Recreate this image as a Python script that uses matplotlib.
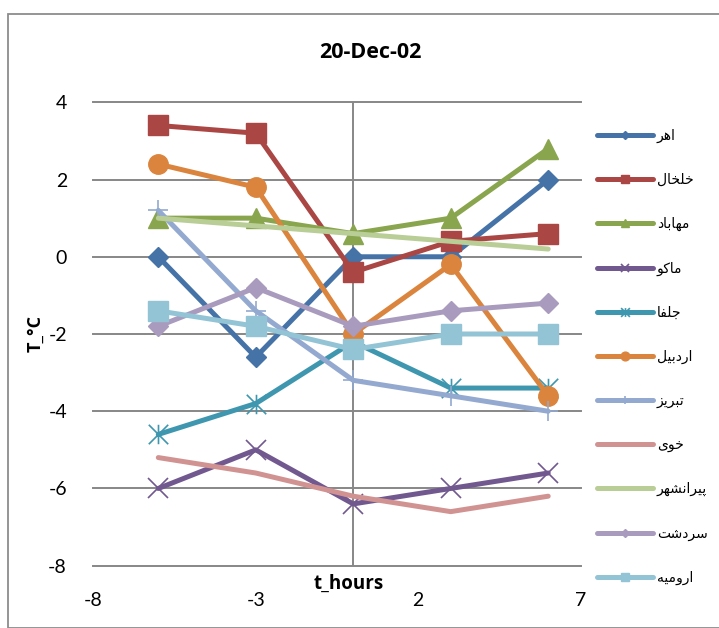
import matplotlib
matplotlib.use("Agg")
import matplotlib.pyplot as plt
from matplotlib.lines import Line2D
from matplotlib.path import Path
from matplotlib.patches import Rectangle

# ---- data -------------------------------------------------------------
hours = [-6, -3, 0, 3, 6]

stations = ["اهر", "خلخال", "مهاباد", "ماکو", "جلفا", "اردبیل",
            "تبریز", "خوی", "پیرانشهر", "سردشت", "ارومیه"]

ahar = [0.0, -2.6, 0.0, 0.0, 2.0]
khalkhal = [3.4, 3.2, -0.4, 0.4, 0.6]
mahabad = [1.0, 1.0, 0.6, 1.0, 2.8]
maku = [-6.0, -5.0, -6.4, -6.0, -5.6]
jolfa = [-4.6, -3.8, -2.2, -3.4, -3.4]
ardabil = [2.4, 1.8, -2.0, -0.2, -3.6]
tabriz = [1.2, -1.4, -3.2, -3.6, -4.0]
khoy = [-5.2, -5.6, -6.2, -6.6, -6.2]
piranshahr = [1.0, 0.8, 0.6, 0.4, 0.2]
sardasht = [-1.8, -0.8, -1.8, -1.4, -1.2]
urmia = [-1.4, -1.8, -2.4, -2.0, -2.0]

series = [ahar, khalkhal, mahabad, maku, jolfa, ardabil,
          tabriz, khoy, piranshahr, sardasht, urmia]

x_ticks = [-8, -3, 2, 7]
y_ticks = [-8, -6, -4, -2, 0, 2, 4]

title = "20-Dec-02"
x_label = "t_hours"
y_label = "T_°C"

# ---- styles -----------------------------------------------------------
colors = ["#4572A7", "#AA4643", "#89A54E", "#71588F", "#3E97AF", "#DB843D",
          "#93A9CF", "#D19392", "#B9CD96", "#A99BBD", "#92C4D5"]

# asterisk marker: an "x" with a vertical bar through it
star_path = Path(
    [(-0.5, -0.5), (0.5, 0.5), (-0.5, 0.5), (0.5, -0.5), (0, -0.5), (0, 0.5)],
    [Path.MOVETO, Path.LINETO, Path.MOVETO, Path.LINETO, Path.MOVETO, Path.LINETO],
)

# (marker, size, edge width, filled)
markers = [("D", 10, 1, True), ("s", 14, 1, True), ("^", 14, 1, True),
           ("x", 14, 1.2, False), (star_path, 14, 1.2, False), ("o", 14, 1, True),
           ("+", 14, 1.2, False), (None, 0, 0, True), (None, 0, 0, True),
           ("D", 10, 1, True), ("s", 14, 1, True)]

# ---- simple Persian shaping (contextual forms, visual order) ----------
FORMS = {
    "ا": ("\uFE8D", "\uFE8E"),
    "ب": ("\uFE8F", "\uFE90", "\uFE91", "\uFE92"),
    "پ": ("\uFB56", "\uFB57", "\uFB58", "\uFB59"),
    "ت": ("\uFE95", "\uFE96", "\uFE97", "\uFE98"),
    "ج": ("\uFE9D", "\uFE9E", "\uFE9F", "\uFEA0"),
    "خ": ("\uFEA5", "\uFEA6", "\uFEA7", "\uFEA8"),
    "د": ("\uFEA9", "\uFEAA"),
    "ر": ("\uFEAD", "\uFEAE"),
    "ز": ("\uFEAF", "\uFEB0"),
    "س": ("\uFEB1", "\uFEB2", "\uFEB3", "\uFEB4"),
    "ش": ("\uFEB5", "\uFEB6", "\uFEB7", "\uFEB8"),
    "ف": ("\uFED1", "\uFED2", "\uFED3", "\uFED4"),
    "ک": ("\uFB8E", "\uFB8F", "\uFB90", "\uFB91"),
    "ل": ("\uFEDD", "\uFEDE", "\uFEDF", "\uFEE0"),
    "م": ("\uFEE1", "\uFEE2", "\uFEE3", "\uFEE4"),
    "ن": ("\uFEE5", "\uFEE6", "\uFEE7", "\uFEE8"),
    "ه": ("\uFEE9", "\uFEEA", "\uFEEB", "\uFEEC"),
    "و": ("\uFEED", "\uFEEE"),
    "ی": ("\uFBFC", "\uFBFD", "\uFBFE", "\uFBFF"),
}


def shape(word):
    out = []
    n = len(word)
    for i, ch in enumerate(word):
        forms = FORMS.get(ch)
        if forms is None:
            out.append(ch)
            continue
        prev = word[i - 1] if i > 0 else None
        nxt = word[i + 1] if i + 1 < n else None
        join_prev = prev in FORMS and len(FORMS[prev]) == 4
        join_next = nxt in FORMS and len(forms) == 4
        if join_prev and join_next:
            out.append(forms[3])
        elif join_prev:
            out.append(forms[1])
        elif join_next:
            out.append(forms[2])
        else:
            out.append(forms[0])
    return "".join(reversed(out))


plt.rcParams["font.family"] = ["Lato", "DejaVu Sans"]

W, H = 719, 628
fig = plt.figure(figsize=(W / 100, H / 100), dpi=100)
ax = fig.add_axes([93.3 / W, 1 - 565.7 / H, (580.7 - 93.3) / W, (565.7 - 102.3) / H])

# outer chart frame
fig.patches.append(Rectangle((8 / W, 0), 1.2, 1 - 14 / H, transform=fig.transFigure,
                             fill=False, edgecolor="#8C8C8C", linewidth=1.3))

grid_color = "#878787"
for yv in y_ticks:
    ax.axhline(yv, color=grid_color, linewidth=1.4, zorder=1, clip_on=False)
ax.axvline(0, color=grid_color, linewidth=1.4, zorder=1)

handles = []
for name, ys, col, (mk, ms, mew, filled) in zip(stations, series, colors, markers):
    kw = dict(color=col, linewidth=3.6, solid_capstyle="round", solid_joinstyle="round", zorder=3)
    if mk is not None:
        kw.update(marker=mk, markersize=ms, markeredgewidth=mew, markeredgecolor=col,
                  markerfacecolor=col if filled else "none")
    ax.plot(hours, ys, **kw)
    hk = dict(color=col, linewidth=3.6, solid_capstyle="round")
    if mk is not None:
        hk.update(marker=mk, markersize=ms * 0.45, markeredgewidth=mew, markeredgecolor=col,
                  markerfacecolor=col if filled else "none")
    handles.append(Line2D([], [], **hk))

ax.set_xlim(-8, 7)
ax.set_ylim(-8, 4)
ax.set_xticks(x_ticks)
ax.set_yticks(y_ticks)
ax.set_xticklabels([str(v) for v in x_ticks])
ax.set_yticklabels([str(v) for v in y_ticks])
ax.tick_params(axis="both", length=0, labelsize=14)
ax.tick_params(axis="x", pad=19)
ax.tick_params(axis="y", pad=19)
for lab in ax.get_xticklabels() + ax.get_yticklabels():
    lab.set_family(["Lato", "DejaVu Sans"])
for sp in ax.spines.values():
    sp.set_visible(False)
ax.set_facecolor("none")

bold_font = ["Open Sans", "DejaVu Sans"]
fig.text(370 / W, 1 - 52 / H, title, ha="center", va="center", fontsize=15.5,
         fontweight="bold", family=bold_font)
fig.text(349 / W, 1 - 584 / H, x_label, ha="center", va="center", fontsize=13.5,
         fontweight="bold", family=bold_font)
fig.text(35 / W, 1 - 334 / H, y_label, ha="center", va="center", rotation=90,
         fontsize=13, fontweight="bold", family=bold_font)

leg = ax.legend(handles, [shape(s) for s in stations], loc="upper left",
                bbox_to_anchor=(597 / W, 1 - 129 / H), bbox_transform=fig.transFigure,
                frameon=False, handlelength=4.0, handletextpad=0.3,
                labelspacing=2.16, borderpad=0, borderaxespad=0,
                prop={"family": ["DejaVu Sans"], "size": 10})

fig.savefig("out.png", dpi=100)
